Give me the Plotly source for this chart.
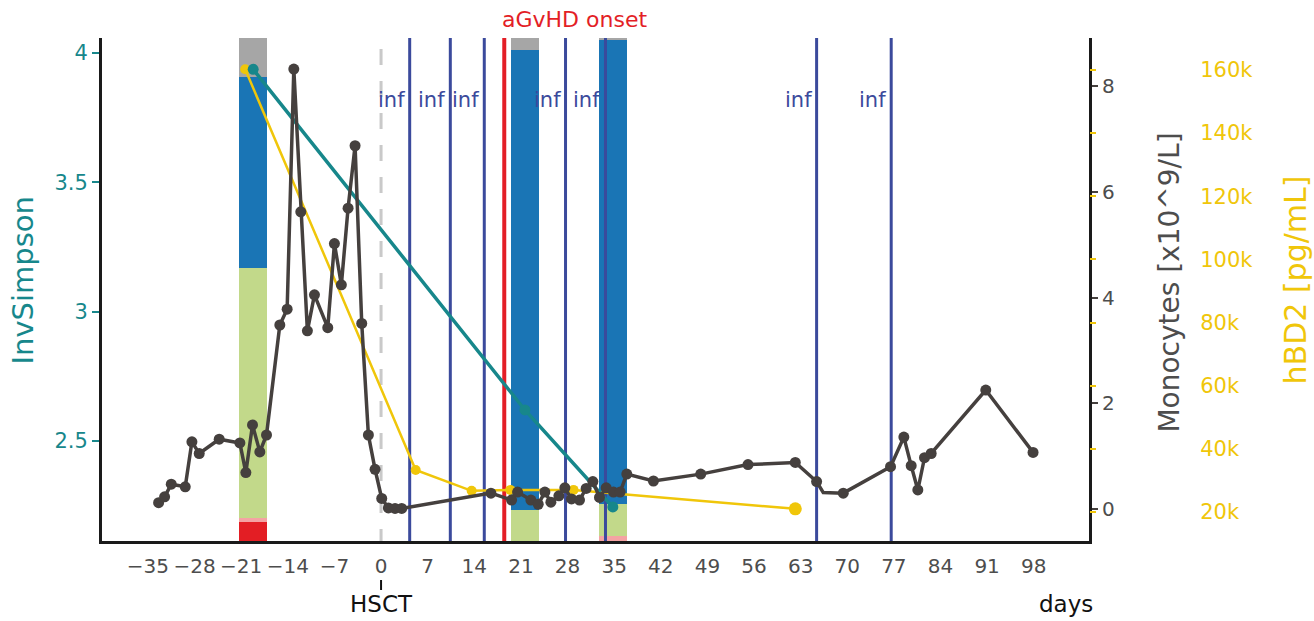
import plotly.graph_objects as go

# ---- data -----------------------------------------------------------------
# day relative to HSCT for each monocyte measurement, and the count (x10^9/L)
mono_days = [-33.4, -32.5, -31.5, -29.4, -28.4, -27.3, -24.3, -21.2, -20.3, -19.3,
             -18.2, -17.2, -15.2, -14.1, -13.1, -12.05, -11.06, -10.0, -8.0, -7.0,
             -5.96, -4.95, -3.9, -2.9, -1.9, -0.9, 0.1, 1.1, 2.1, 3.1,
             16.5, 19.6, 20.5, 22.5, 23.6, 24.6, 25.5, 26.7, 27.6, 28.6,
             29.8, 30.8, 31.8, 32.8, 33.8, 34.9, 35.9, 36.9, 40.9, 48.0,
             55.1, 62.2, 65.4, 66.4, 69.4, 76.5, 78.5, 79.6, 80.6, 81.6,
             82.6, 90.8, 97.9]
mono_vals = [0.12, 0.23, 0.47, 0.42, 1.27, 1.05, 1.32, 1.25, 0.69, 1.59,
             1.08, 1.40, 3.48, 3.78, 8.32, 5.62, 3.37, 4.05, 3.43, 5.02,
             4.24, 5.69, 6.87, 3.51, 1.40, 0.75, 0.20, 0.02, 0.01, 0.01,
             0.30, 0.17, 0.32, 0.17, 0.09, 0.32, 0.13, 0.25, 0.40, 0.19,
             0.17, 0.39, 0.52, 0.22, 0.40, 0.32, 0.32, 0.66, 0.53, 0.66,
             0.84, 0.88, 0.52, 0.31, 0.30, 0.80, 1.36, 0.82, 0.36, 0.97,
             1.05, 2.25, 1.07]
# vertex without a measured marker (line corner only)
mono_no_marker_days = [66.4]

# hBD2 concentration (pg/mL)
hbd2_days = [-20.4, 5.2, 13.6, 19.4, 28.9, 62.2]
hbd2_vals = [160200, 33300, 26700, 27000, 27000, 21000]

# stool samples: InvSimpson diversity and relative composition
sample_days = [-19.2, 21.6, 34.8]
invsimpson = [3.937, 2.62, 2.245]
comp_red = [0.037, 0.0, 0.0]
comp_pink = [0.008, 0.0, 0.010]
comp_green = [0.497, 0.062, 0.064]
comp_blue = [0.380, 0.914, 0.922]
comp_grey = [0.078, 0.024, 0.004]

# clinical events
infection_days = [4.3, 10.4, 15.5, 27.7, 33.7, 65.4, 76.6]
agvhd_day = 18.5
hsct_day = 0

x_ticks = list(range(-35, 99, 7))
inv_ticks = [2.5, 3, 3.5, 4]
mono_ticks = [0, 2, 4, 6, 8]
hbd2_ticks = [20000, 40000, 60000, 80000, 100000, 120000, 140000, 160000]

# ---- styling ----------------------------------------------------------------
FONT = "DejaVu Sans"
TEAL = "#17878B"
YELLOW = "#F0C60A"
DARK = "#45403E"
GREYTXT = "#4D4D4D"
AXIS = "#1A1A1A"
BLUE_LINE = "#3B4A9C"
RED_LINE = "#E31E26"

fig = go.Figure()

# stacked composition bars on a hidden 0-1 axis filling the plot height
layers = [("Group 1", comp_red, "#E31E24"),
          ("Group 2", comp_pink, "#F4A3A3"),
          ("Group 3", comp_green, "#C2D98A"),
          ("Group 4", comp_blue, "#1A75B5"),
          ("Group 5", comp_grey, "#A6A6A6")]
for name, vals, col in layers:
    fig.add_trace(go.Bar(x=sample_days, y=vals, width=4.2, name=name,
                         marker=dict(color=col, line=dict(width=0)),
                         xaxis="x", yaxis="y", hoverinfo="skip"))

# HSCT day dashed marker
fig.add_trace(go.Scatter(x=[hsct_day, hsct_day], y=[0.978, 0], mode="lines",
                         line=dict(color="#C9C9C9", width=3, dash="16px,16px"),
                         xaxis="x", yaxis="y", hoverinfo="skip"))
# infection events
for d in infection_days:
    fig.add_trace(go.Scatter(x=[d, d], y=[0, 1], mode="lines",
                             line=dict(color=BLUE_LINE, width=3),
                             xaxis="x", yaxis="y", hoverinfo="skip"))
# aGvHD onset
fig.add_trace(go.Scatter(x=[agvhd_day, agvhd_day], y=[0, 1], mode="lines",
                         line=dict(color=RED_LINE, width=4),
                         xaxis="x", yaxis="y", hoverinfo="skip"))

# hBD2
fig.add_trace(go.Scatter(x=hbd2_days, y=hbd2_vals, mode="lines+markers",
                         line=dict(color=YELLOW, width=2.5),
                         marker=dict(color=YELLOW, size=[10, 10, 10, 10, 10, 13],
                                     opacity=1, line=dict(width=0)),
                         xaxis="x", yaxis="y2", name="hBD2"))
# InvSimpson
fig.add_trace(go.Scatter(x=sample_days, y=invsimpson, mode="lines+markers",
                         line=dict(color=TEAL, width=3.5),
                         marker=dict(color=TEAL, size=11, opacity=1,
                                     line=dict(width=0)),
                         xaxis="x", yaxis="y3", name="InvSimpson"))
# Monocytes
mono_sizes = [0 if d in mono_no_marker_days else 11 for d in mono_days]
fig.add_trace(go.Scatter(x=mono_days, y=mono_vals, mode="lines+markers",
                         line=dict(color=DARK, width=3.5),
                         marker=dict(color=DARK, size=mono_sizes, opacity=1,
                                     line=dict(width=0)),
                         xaxis="x", yaxis="y4", name="Monocytes"))

# ---- annotations ------------------------------------------------------------
ann = []
for d in infection_days:
    ann.append(dict(x=d, y=0.877, xref="x", yref="paper", text="inf",
                    showarrow=False, xanchor="right", yanchor="middle", xshift=-3,
                    font=dict(family=FONT, size=21, color=BLUE_LINE)))
ann.append(dict(x=agvhd_day, y=1.036, xref="x", yref="paper", text="aGvHD onset",
                showarrow=False, xanchor="left", yanchor="middle", xshift=-4,
                font=dict(family=FONT, size=22, color=RED_LINE)))
ann.append(dict(x=hsct_day, y=-0.126, xref="x", yref="paper", text="HSCT",
                showarrow=False, xanchor="center", yanchor="middle",
                font=dict(family=FONT, size=23, color="#111111")))
ann.append(dict(x=1.006, y=-0.126, xref="paper", yref="paper", text="days",
                showarrow=False, xanchor="right", yanchor="middle",
                font=dict(family=FONT, size=23, color="#111111")))
ann.append(dict(x=-0.0805, y=0.517, xref="paper", yref="paper", text="InvSimpson",
                showarrow=False, textangle=-90, xanchor="center", yanchor="middle",
                font=dict(family=FONT, size=29, color=TEAL)))
ann.append(dict(x=1.0817, y=0.513, xref="paper", yref="paper",
                text="Monocytes [x10^9/L]", showarrow=False, textangle=-90,
                xanchor="center", yanchor="middle",
                font=dict(family=FONT, size=28, color=GREYTXT)))
ann.append(dict(x=1.2092, y=0.519, xref="paper", yref="paper", text="hBD2 [pg/mL]",
                showarrow=False, textangle=-90, xanchor="center", yanchor="middle",
                font=dict(family=FONT, size=30, color=YELLOW)))

shapes = [dict(type="line", xref="x", yref="paper", x0=hsct_day, x1=hsct_day,
               y0=-0.0775, y1=-0.0974, line=dict(color="#111111", width=2))]

fig.update_layout(
    width=1314, height=621,
    margin=dict(l=102, r=225, t=38, b=80),
    plot_bgcolor="white", paper_bgcolor="white",
    showlegend=False, barmode="stack", bargap=0,
    font=dict(family=FONT),
    annotations=ann, shapes=shapes,
    xaxis=dict(range=[-41.9, 106.3], tickvals=x_ticks, showgrid=False,
               zeroline=False, showline=True, linecolor=AXIS, linewidth=3,
               ticks="", ticklabelstandoff=5,
               tickfont=dict(family=FONT, size=20, color=GREYTXT)),
    yaxis=dict(range=[0, 1], visible=False, fixedrange=True),
    yaxis2=dict(overlaying="y", side="right", anchor="x",
                range=[10810, 170100], tickvals=hbd2_ticks, tickformat="~s",
                showgrid=False, zeroline=False, showline=False,
                ticks="outside", ticklen=6, tickwidth=2, tickcolor=YELLOW,
                ticklabelstandoff=100,
                tickfont=dict(family=FONT, size=21, color=YELLOW)),
    yaxis3=dict(overlaying="y", side="left", anchor="x",
                range=[2.1135, 4.058], tickvals=inv_ticks,
                ticktext=["2.5", "3", "3.5", "4"],
                showgrid=False, zeroline=False, showline=True,
                linecolor=AXIS, linewidth=3,
                ticks="outside", ticklen=7, tickwidth=2, tickcolor=TEAL,
                tickfont=dict(family=FONT, size=21, color=TEAL)),
    yaxis4=dict(overlaying="y", side="right", anchor="x",
                range=[-0.605, 8.908], tickvals=mono_ticks,
                showgrid=False, zeroline=False, showline=True,
                linecolor=AXIS, linewidth=3,
                ticks="outside", ticklen=6, tickwidth=2, tickcolor=DARK,
                tickfont=dict(family=FONT, size=20, color=GREYTXT)),
)

fig.write_html("out.html")
